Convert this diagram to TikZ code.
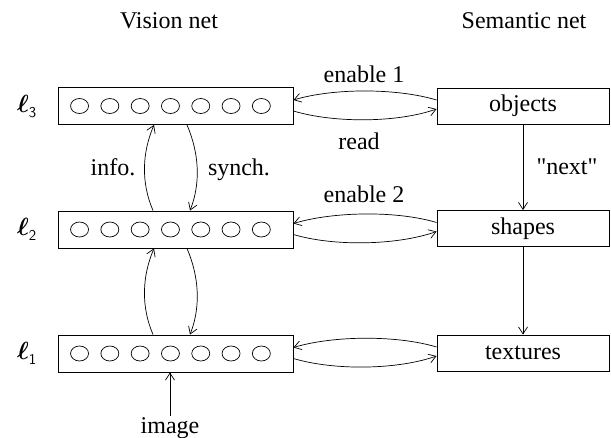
\documentclass[tikz,border=0pt]{standalone}
\usepackage{amsmath}
\usepackage{fontspec}
\setmainfont{Liberation Serif}
\usetikzlibrary{arrows.meta,calc}
\tikzset{
  vbox/.style={draw, line width=0.9pt, minimum width=235pt, minimum height=37pt, inner sep=0pt},
  sbox/.style={draw, line width=0.9pt, minimum width=172pt, minimum height=36pt, inner sep=0pt, font=\fontsize{24}{28}\selectfont},
  lbl/.style={anchor=base, inner sep=1pt, font=\fontsize{24}{28}\selectfont},
  arc/.style={line width=0.7pt, -{Straight Barb[length=7pt,width=9pt]}},
  unit/.style={line width=0.7pt},
  lvl/.style={anchor=base west, inner sep=0pt},
}
\newcommand{\lvlname}[1]{{\fontsize{26}{26}\selectfont$\boldsymbol{\ell}$}\raisebox{-5pt}{\fontsize{15}{15}\selectfont\sffamily #1}}
\begin{document}
\begin{tikzpicture}[x=1pt,y=-1pt]
\useasboundingbox (0,0) rectangle (611,437);
% headers
\node[lbl] (hv) at (169,28) {Vision net};
\node[lbl] (hs) at (524,28) {Semantic net};
% vision boxes
\node[vbox] (v3) at (175.5,106) {};
\node[vbox] (v2) at (175.5,229.5) {};
\node[vbox] (v1) at (175.5,353.5) {};
\foreach \v in {v1,v2,v3}
  \foreach \k in {0,...,6}
    \draw[unit] ($(\v.west)+(22pt+30.3pt*\k,0pt)$) ellipse [x radius=9pt, y radius=7.5pt];
% level labels
\node[lvl] (l3) at (17,112) {\lvlname{3}};
\node[lvl] (l2) at (17,235.5) {\lvlname{2}};
\node[lvl] (l1) at (17,359.5) {\lvlname{1}};
% semantic boxes
\node[sbox] (s3) at (523,106) {objects};
\node[sbox] (s2) at (523,228.5) {shapes};
\node[sbox] (s1) at (523,353) {textures};
% semantic arrows
\draw[arc] (s3.south) -- (s2.north);
\draw[arc] (s2.south) -- (s1.north);
\node[lbl] (next) at (567,174) {\textquotedbl next\textquotedbl};
% vertical arcs
\foreach \a/\b in {v3/v2, v2/v1}{
  \draw[arc] ([xshift=-22.5pt]\b.north) .. controls +(-12pt,28pt) and +(-12pt,-28pt) .. ([xshift=-21.5pt]\a.south);
  \draw[arc] ([xshift=11.5pt]\a.south) .. controls +(12pt,-28pt) and +(11pt,28pt) .. ([xshift=14.5pt]\b.north);
}
\node[lbl] (info) at (113,175) {info.};
\node[lbl] (synch) at (239,175) {synch.};
% horizontal arcs
\foreach \a/\b in {v3/s3, v2/s2, v1/s1}{
  \draw[arc] ([yshift=6pt]\b.west) .. controls +(-40pt,12pt) and +(40pt,12pt) .. ([yshift=6pt]\a.east);
  \draw[arc] ([yshift=-5pt]\a.east) .. controls +(40pt,-12pt) and +(-40pt,-14pt) .. ([yshift=-3pt]\b.west);
}
\node[lbl] (en1) at (364,82) {enable 1};
\node[lbl] (rd) at (359,149) {read};
\node[lbl] (en2) at (364,202) {enable 2};
% image
\node[lbl] (img) at (170,433) {image};
\draw[arc] (img.north) -- (img.north |- v1.south);
\end{tikzpicture}
\end{document}
